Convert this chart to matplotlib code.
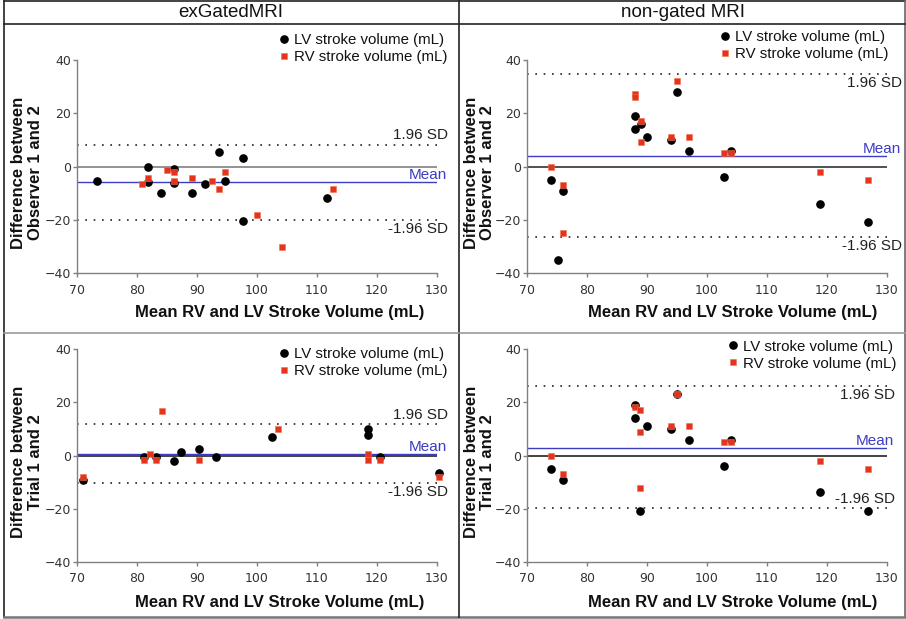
#!/usr/bin/env python

"""
Bland-Altman plots of LV / RV stroke volume agreement, exGatedMRI vs
non-gated MRI, inter-observer (top) and intra-observer (bottom).
"""

import numpy as np
import matplotlib
matplotlib.use("Agg")
import matplotlib.pyplot as plt
from matplotlib.lines import Line2D

# --- exGatedMRI, observer 1 vs 2 ---
ex_obs_lv_x = [73.4, 81.9, 81.9, 84.1, 86.2, 86.2, 89.3, 91.4, 93.7, 94.7,
               97.8, 97.8, 111.7]
ex_obs_lv_y = [-5.5, 0.0, -5.6, -9.7, -0.9, -6.2, -9.7, -6.4, 5.4, -5.5,
               3.1, -20.2, -11.7]
ex_obs_rv_x = [80.9, 81.9, 85.1, 86.2, 86.2, 89.3, 92.5, 93.7, 94.7, 100.0,
               104.3, 112.7]
ex_obs_rv_y = [-6.4, -4.1, -1.2, -2.0, -5.4, -4.2, -5.5, -8.5, -2.0, -18.2,
               -30.0, -8.5]
ex_obs_lines = {"sd_hi": 8.3, "sd_lo": -20.0, "mean": -5.9}

# --- non-gated MRI, observer 1 vs 2 ---
ng_obs_lv_x = [74.1, 75.2, 76.1, 88.1, 88.1, 89.0, 90.0, 94.1, 95.0, 97.0,
               102.9, 104.0, 118.9, 126.8]
ng_obs_lv_y = [-5.0, -35.0, -9.1, 19.1, 14.0, 16.0, 11.0, 9.9, 28.1, 6.0,
               -4.0, 6.0, -13.9, -20.7]
ng_obs_rv_x = [74.1, 76.1, 76.1, 88.1, 88.1, 89.0, 89.0, 94.1, 95.0, 97.0,
               102.9, 104.0, 118.9, 126.8]
ng_obs_rv_y = [0.0, -7.0, -24.9, 27.1, 26.0, 17.1, 9.1, 11.0, 32.1, 11.0,
               5.1, 5.1, -1.9, -5.0]
ng_obs_lines = {"sd_hi": 34.6, "sd_lo": -26.2, "mean": 4.1}

# --- exGatedMRI, trial 1 vs 2 ---
ex_tri_lv_x = [71.1, 81.2, 83.3, 86.3, 87.4, 90.4, 93.3, 102.5, 118.6,
               118.6, 120.6, 130.3]
ex_tri_lv_y = [-9.3, -0.4, -0.4, -1.9, 1.4, 2.5, -0.7, 6.8, 10.0, 7.9,
               -0.4, -6.5]
ex_tri_rv_x = [71.1, 81.2, 82.3, 83.3, 84.3, 90.4, 103.5, 118.6, 118.6,
               120.6, 130.3]
ex_tri_rv_y = [-8.0, -1.7, 0.6, -1.7, 16.6, -1.7, 10.0, 0.6, -1.7, -1.7,
               -8.0]
ex_tri_lines = {"sd_hi": 11.7, "sd_lo": -10.2, "mean": 0.75}

# --- non-gated MRI, trial 1 vs 2 ---
ng_tri_lv_x = [74.0, 76.0, 88.0, 88.0, 88.9, 90.0, 94.1, 95.0, 97.0,
               102.9, 104.0, 118.9, 126.8]
ng_tri_lv_y = [-5.0, -9.2, 19.2, 14.1, -21.0, 11.1, 9.8, 23.1, 5.9, -4.0,
               5.9, -13.9, -21.0]
ng_tri_rv_x = [74.0, 76.0, 88.0, 88.9, 88.9, 88.9, 94.1, 95.0, 97.0, 102.9,
               104.0, 118.9, 126.8]
ng_tri_rv_y = [0.0, -6.9, 18.1, 17.2, 9.0, -12.1, 11.1, 23.1, 11.1, 5.2,
               5.2, -1.9, -5.0]
ng_tri_lines = {"sd_hi": 26.3, "sd_lo": -19.6, "mean": 3.0}

col_titles = ["exGatedMRI", "non-gated MRI"]
row_ylabels = ["Difference between\nObserver 1 and 2",
               "Difference between\nTrial 1 and 2"]
xlabel = "Mean RV and LV Stroke Volume (mL)"
lv_label = "LV stroke volume (mL)"
rv_label = "RV stroke volume (mL)"
xticks = [70, 80, 90, 100, 110, 120, 130]
yticks = [-40, -20, 0, 20, 40]

RED = "#e5341d"
BLUE = "#3c3cc4"
GREY = "#808080"
TXT = "Liberation Sans"


def panel(ax, lv_x, lv_y, rv_x, rv_y, lines, zero_col, opts):

    ax.set_xlim(70, 130)
    ax.set_ylim(-40, 40)
    ax.set_xticks(xticks)
    ax.set_yticks(yticks)
    for s in ("top", "right"):
        ax.spines[s].set_visible(False)
    for s in ("left", "bottom"):
        ax.spines[s].set_color(GREY)
        ax.spines[s].set_linewidth(1.0)
    ax.tick_params(axis="both", direction="out", length=3, width=1.0,
                   color=GREY, labelsize=9, labelcolor="#333333")
    ax.tick_params(axis="x", pad=4.5)
    ax.tick_params(axis="y", pad=1)

    ax.axhline(0, color=zero_col, lw=1.2, zorder=1)
    ax.axhline(lines["mean"], color=BLUE, lw=1.0, zorder=1)
    ax.axhline(lines["sd_hi"], color="#222222", lw=1.2, ls=(0, (1, 4)),
               zorder=1)
    ax.axhline(lines["sd_lo"], color="#222222", lw=1.2, ls=(0, (1, 4)),
               zorder=1)

    ax.plot(lv_x, lv_y, ls="none", marker="o", ms=5.2, color="black",
            label=lv_label, zorder=3, clip_on=False)
    ax.plot(rv_x, rv_y, ls="none", marker="s", ms=4.4, color=RED,
            mec="#f07050", mew=0.4, label=rv_label, zorder=4, clip_on=False)

    tx = opts["tx"]
    ax.annotate("1.96 SD", xy=(tx, lines["sd_hi"]),
                xycoords=("axes fraction", "data"),
                xytext=(0, opts["hi_off"]), textcoords="offset points",
                ha="right", va="center", fontsize=11, family=TXT,
                color="#222222", annotation_clip=False)
    ax.annotate("-1.96 SD", xy=(tx, lines["sd_lo"]),
                xycoords=("axes fraction", "data"),
                xytext=(0, opts["lo_off"]), textcoords="offset points",
                ha="right", va="center", fontsize=11, family=TXT,
                color="#222222", annotation_clip=False)
    ax.annotate("Mean", xy=(tx - 0.002, lines["mean"]),
                xycoords=("axes fraction", "data"),
                xytext=(0, 5), textcoords="offset points",
                ha="right", va="center", fontsize=11, family=TXT,
                color=BLUE, annotation_clip=False)

    leg = ax.legend(loc="upper right", bbox_to_anchor=opts["leg"],
                    frameon=False, borderaxespad=0, borderpad=0,
                    handlelength=0.7, handletextpad=0.35, labelspacing=0.2,
                    prop={"family": TXT, "size": 10.8})
    for t in leg.get_texts():
        t.set_color("#111111")

    ax.text(opts["xl"][0], opts["xl"][1], xlabel, transform=ax.transAxes,
            ha="center", va="center", fontsize=12, fontweight="bold",
            family=TXT, color="#111111")
    ax.text(opts["yl"][0], opts["yl"][1], opts["ylabel"],
            transform=ax.transAxes, ha="center", va="center", rotation=90,
            fontsize=12, fontweight="bold", family=TXT, color="#111111",
            linespacing=1.15)


def main():

    W, H = 906, 619
    fig = plt.figure(figsize=(W / 100, H / 100), dpi=100)

    ax_w = 360 / W
    top_b = 1 - 273.3 / H
    top_h = 213.3 / H
    bot_b = 1 - 561.7 / H
    bot_h = 212.4 / H
    l1 = 76.7 / W
    l2 = 526.7 / W

    ax1 = fig.add_axes([l1, top_b, ax_w, top_h])
    ax2 = fig.add_axes([l2, top_b, ax_w, top_h])
    ax3 = fig.add_axes([l1, bot_b, ax_w, bot_h])
    ax4 = fig.add_axes([l2, bot_b, ax_w, bot_h])

    panel(ax1, ex_obs_lv_x, ex_obs_lv_y, ex_obs_rv_x, ex_obs_rv_y,
          ex_obs_lines, GREY,
          {"tx": 1.031, "hi_off": 7, "lo_off": -6.5,
           "leg": (1.031, 1.127), "xl": (0.565, -0.186),
           "yl": (-0.137, 0.47), "ylabel": row_ylabels[0]})
    panel(ax2, ng_obs_lv_x, ng_obs_lv_y, ng_obs_rv_x, ng_obs_rv_y,
          ng_obs_lines, "#333333",
          {"tx": 1.042, "hi_off": -6.5, "lo_off": -6.5,
           "leg": (1.006, 1.14), "xl": (0.573, -0.186),
           "yl": (-0.131, 0.47), "ylabel": row_ylabels[0]})
    panel(ax3, ex_tri_lv_x, ex_tri_lv_y, ex_tri_rv_x, ex_tri_rv_y,
          ex_tri_lines, "#222222",
          {"tx": 1.031, "hi_off": 6.5, "lo_off": -6.5,
           "leg": (1.031, 1.012), "xl": (0.565, -0.194),
           "yl": (-0.137, 0.47), "ylabel": row_ylabels[1]})
    panel(ax4, ng_tri_lv_x, ng_tri_lv_y, ng_tri_rv_x, ng_tri_rv_y,
          ng_tri_lines, "#222222",
          {"tx": 1.023, "hi_off": -6.5, "lo_off": 6.5,
           "leg": (1.028, 1.045), "xl": (0.573, -0.194),
           "yl": (-0.131, 0.47), "ylabel": row_ylabels[1]})

    # column titles
    fig.text(231 / W, 1 - 12.5 / H, col_titles[0], ha="center", va="center",
             fontsize=13.5, family=["Liberation Sans Narrow", TXT],
             color="#111111")
    fig.text(683 / W, 1 - 12.5 / H, col_titles[1], ha="center", va="center",
             fontsize=13.5, family=["Liberation Sans Narrow", TXT],
             color="#111111")

    # table-like frame around the panels
    def fline(x0, y0, x1, y1, col="#222222", lw=1.2):
        fig.add_artist(Line2D([x0 / W, x1 / W], [1 - y0 / H, 1 - y1 / H],
                              color=col, lw=lw, transform=fig.transFigure))

    fline(3.5, 0.8, 904.5, 0.8)
    fline(3.5, 0.8, 3.5, 617)
    fline(904.5, 0.8, 904.5, 617, col="#666666")
    fline(3.5, 617, 904.5, 617, col="#777777", lw=1.8)
    fline(3.5, 24, 904.5, 24)
    fline(459, 0.8, 459, 617)
    fline(3.5, 333, 904.5, 333, col="#999999")

    fig.savefig("out.png", dpi=100)


if __name__ == "__main__":
    main()
